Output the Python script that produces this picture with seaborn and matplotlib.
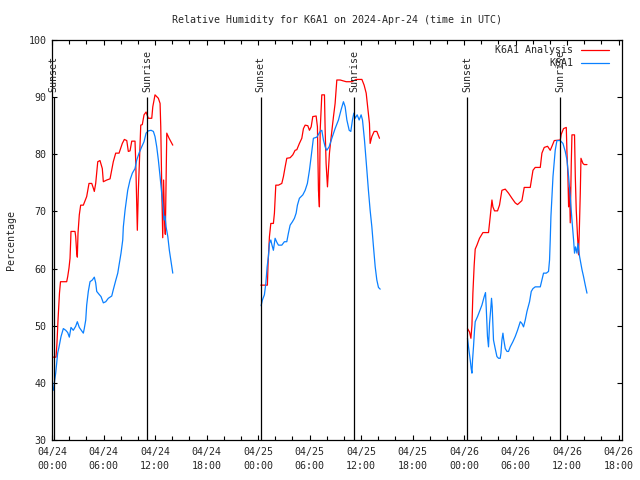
import pandas as pd
import seaborn as sns
import matplotlib
matplotlib.use('Agg')
import matplotlib.pyplot as plt
import matplotlib.dates as mdates

# hours since 2024-04-24 00:00 UTC, relative humidity in %
analysis_day1_hours = [0.12, 0.47, 0.58, 0.70, 0.87, 0.99, 1.71, 1.83, 1.98, 2.10, 2.18, 2.21, 2.68, 2.76, 2.88, 2.95,
                       3.03, 3.18, 3.34, 3.65, 4.04, 4.31, 4.63, 4.81, 4.93, 5.09, 5.33, 5.59, 5.86, 5.98, 6.38, 6.76,
                       7.14, 7.42, 7.81, 8.19, 8.43, 8.71, 8.89, 9.09, 9.29, 9.67, 9.76, 9.94, 10.06, 10.34, 10.52,
                       10.72, 10.96, 11.22, 11.62, 11.74, 12.0, 12.39, 12.59, 12.67, 12.79, 12.9, 13.0, 13.1, 13.2,
                       13.37, 13.64, 14.07]
analysis_day1_rh = [44.5, 44.5, 47, 51, 55.7, 57.7, 57.7, 58.6, 60.1, 61.8, 65, 66.5, 66.5, 65.6, 62.7, 62,
                    66.2, 69.4, 71.1, 71.1, 72.6, 74.9, 74.9, 74.1, 73.5, 74.9, 78.7, 78.9, 77.5, 75.2, 75.5, 75.7,
                    78.7, 80.2, 80.2, 81.9, 82.6, 82.4, 80.5, 80.6, 82.3, 82.3, 78.4, 66.7, 73.7, 85.1, 85.2,
                    86.9, 87.4, 86.3, 86.3, 88.3, 90.4, 89.8, 88.9, 84.8, 73.7, 65.4, 75.5, 69, 66,
                    83.7, 82.8, 81.6]

obs_day1_hours = [0.15, 0.27, 0.43, 0.55, 0.66, 0.82, 1.05, 1.32, 1.60, 1.83, 2.02, 2.21, 2.48, 2.76, 2.95, 3.18,
                  3.46, 3.65, 3.76, 3.93, 4.04, 4.23, 4.43, 4.70, 4.93, 5.09, 5.21, 5.48, 5.71, 5.98, 6.26, 6.56,
                  6.96, 7.14, 7.42, 7.66, 7.81, 8.04, 8.24, 8.31, 8.51, 8.82, 9.09, 9.36, 9.67, 9.87, 10.14, 10.45,
                  10.72, 10.96, 11.22, 11.54, 11.81, 12.0, 12.2, 12.39, 12.59, 12.79, 12.97, 13.05, 13.17, 13.29,
                  13.49, 13.67, 13.87, 14.07]
obs_day1_rh = [38.7, 40, 41.7, 43.5, 45.2, 46.3, 48.1, 49.5, 49.2, 48.8, 48, 49.7, 49.2, 49.9, 50.7, 49.7,
               49.1, 48.7, 49.5, 51, 53.6, 56, 57.7, 58, 58.5, 57.5, 56, 55.5, 55.1, 54, 54.2, 54.8,
               55.2, 56.3, 57.9, 59.2, 60.6, 62.7, 65, 67.3, 70.2, 73.7, 75.5, 76.7, 77.5, 79, 80.2, 81.3,
               82.2, 83.7, 84.1, 84.2, 84, 83.1, 81.3, 79, 76.1, 73, 70.2, 68.5, 69.2, 67.3,
               65.6, 63.2, 61.2, 59.2]

analysis_day2_hours = [24.32, 25.09, 25.17, 25.33, 25.49, 25.79, 25.91, 26.07, 26.38, 26.77, 26.96, 27.16, 27.35,
                       27.74, 28.05, 28.32, 28.52, 28.82, 29.10, 29.29, 29.49, 29.80, 29.99, 30.19, 30.38, 30.77,
                       30.92, 31.04, 31.15, 31.24, 31.43, 31.74, 31.82, 31.93, 32.09, 32.20, 32.32, 32.48, 32.79,
                       32.98, 33.18, 33.57, 34.27, 34.93, 35.43, 36.10, 36.36, 36.60, 36.75, 36.98, 37.06, 37.26,
                       37.53, 37.84, 38.15]
analysis_day2_rh = [57.1, 57.1, 60.9, 65.6, 67.9, 67.9, 69.7, 74.6, 74.6, 74.9, 76.1, 77.8, 79.3,
                    79.4, 79.9, 80.7, 80.8, 81.9, 82.8, 84.5, 85.1, 85, 84.2, 84.8, 86.6, 86.7,
                    84.8, 73.7, 70.8, 84.2, 90.4, 90.4, 84.2, 78.4, 74.3, 77.2, 80.2, 82.5, 86.6,
                    88.9, 93, 93, 92.7, 92.7, 93.1, 93.1, 92.1, 90.7, 88.6, 85.4, 81.9, 83.1,
                    84, 84, 82.8]

obs_day2_hours = [24.36, 24.51, 24.74, 24.91, 25.06, 25.21, 25.33, 25.49, 25.61, 25.79, 25.99, 26.19, 26.38, 26.77,
                  27.07, 27.35, 27.54, 27.74, 28.01, 28.24, 28.44, 28.59, 28.82, 29.22, 29.49, 29.75, 29.99, 30.19,
                  30.45, 30.85, 31.24, 31.43, 31.62, 31.82, 32.01, 32.28, 32.60, 32.98, 33.37, 33.68, 33.95, 34.15,
                  34.35, 34.62, 34.81, 35.00, 35.16, 35.31, 35.55, 35.78, 36.01, 36.17, 36.40, 36.68, 36.86, 37.06,
                  37.26, 37.45, 37.65, 37.84, 38.03, 38.23]
obs_day2_rh = [53.5, 54.5, 55.4, 57.4, 60.3, 62.1, 64.4, 65, 64.2, 63.2, 65.3, 64.6, 64.1, 64.1,
               64.7, 64.7, 66.2, 67.6, 68.2, 68.8, 69.7, 71.1, 72.3, 72.9, 73.7, 74.9, 77.2, 79.6,
               82.8, 83, 84, 84.2, 82.5, 81.3, 80.7, 81.3, 82.8, 84.5, 86, 87.8, 89.2, 88.3,
               86, 84.2, 84, 86, 87.2, 86.3, 86.9, 86, 86.9, 86, 82.5, 77.2, 73.7, 70.2,
               67.3, 63.8, 60.3, 58, 56.7, 56.4]

analysis_day3_hours = [48.40, 48.64, 48.80, 48.92, 49.03, 49.18, 49.30, 49.50, 49.80, 50.20, 50.85, 51.05, 51.25,
                       51.36, 51.55, 51.90, 52.13, 52.41, 52.80, 53.18, 53.58, 53.96, 54.23, 54.74, 55.01, 55.71,
                       56.03, 56.29, 56.88, 57.07, 57.34, 57.73, 58.04, 58.24, 58.51, 59.21, 59.32, 59.59, 59.91,
                       59.99, 60.10, 60.18, 60.29, 60.37, 60.49, 60.57, 60.87, 60.96, 61.07, 61.22, 61.34, 61.42,
                       61.54, 61.62, 61.85, 62.00, 62.32]
analysis_day3_rh = [49.5, 48.9, 47.8, 50.1, 55.7, 60.6, 63.4, 64.1, 65.3, 66.3, 66.3, 69.1, 72,
                    70.8, 70.1, 70.1, 71.1, 73.7, 73.9, 73.2, 72.3, 71.5, 71.2, 71.9, 74.2, 74.2,
                    77.2, 77.7, 77.7, 80.2, 81.2, 81.4, 80.7, 81.4, 82.4, 82.5, 83.5, 84.5, 84.7,
                    80.2, 76.1, 70.8, 74.3, 68, 78.4, 83.4, 83.4, 76.1, 70.2, 65.6, 62.4, 66.2,
                    73.2, 79.3, 78.4, 78.2, 78.2]

obs_day3_hours = [48.40, 48.52, 48.72, 48.83, 48.92, 48.99, 49.10, 49.22, 49.30, 49.57, 49.80, 50.08, 50.35, 50.50,
                  50.58, 50.73, 50.85, 50.97, 51.13, 51.20, 51.28, 51.43, 51.63, 51.83, 52.02, 52.21, 52.30, 52.41,
                  52.53, 52.60, 52.80, 53.00, 53.18, 53.38, 53.69, 53.96, 54.23, 54.55, 54.74, 54.93, 55.13, 55.33,
                  55.63, 55.83, 56.03, 56.29, 56.88, 57.07, 57.26, 57.58, 57.84, 57.96, 58.04, 58.12, 58.36, 58.62,
                  58.82, 59.21, 59.52, 59.79, 59.99, 60.18, 60.37, 60.57, 60.76, 60.87, 60.99, 61.15, 61.27, 61.46,
                  61.74, 61.92, 62.12, 62.32]
obs_day3_rh = [47.8, 46.3, 44, 42.5, 41.7, 44, 46.3, 49.2, 50.7, 51.6, 52.5, 53.6, 55.1, 55.8,
               53.3, 48.1, 46.3, 50.4, 53.3, 54.8, 53.3, 47.5, 46, 44.6, 44.3, 44.3, 45.2, 47.5,
               48.7, 47.8, 46, 45.5, 45.5, 46.3, 47.2, 48.1, 49.2, 50.7, 50.4, 49.8, 51, 52.5,
               54.2, 56, 56.5, 56.8, 56.8, 58, 59.2, 59.2, 59.5, 61.5, 65, 69.1, 76.1, 80.7,
               82.4, 82.4, 81.9, 80.5, 79, 76.1, 72.6, 68.5, 65, 62.7, 63.8, 62.7, 64.4, 62.1,
               59.8, 58.6, 57.1, 55.7]

sunset_hours = [0.2, 24.3, 48.4]
sunrise_hours = [11.1, 35.2, 59.2]

start = pd.Timestamp('2024-04-24 00:00')

segments = [
    ('K6A1 Analysis', 1, analysis_day1_hours, analysis_day1_rh),
    ('K6A1 Analysis', 2, analysis_day2_hours, analysis_day2_rh),
    ('K6A1 Analysis', 3, analysis_day3_hours, analysis_day3_rh),
    ('K6A1', 1, obs_day1_hours, obs_day1_rh),
    ('K6A1', 2, obs_day2_hours, obs_day2_rh),
    ('K6A1', 3, obs_day3_hours, obs_day3_rh),
]
frames = []
for name, day, hrs, vals in segments:
    frames.append(pd.DataFrame({'time': start + pd.to_timedelta(hrs, unit='h'),
                                'rh': vals, 'series': name, 'day': day}))
df = pd.concat(frames, ignore_index=True)

sns.set_style('ticks')
plt.rcParams['font.family'] = ['DejaVu Sans Mono']
fs = 7.2

fig = plt.figure(figsize=(6.4, 4.8), dpi=100)
ax = fig.add_axes([52 / 640, 1 - 440 / 480, 570 / 640, 400 / 480])

sns.lineplot(data=df, x='time', y='rh', hue='series', hue_order=['K6A1 Analysis', 'K6A1'],
             units='day', estimator=None, sort=False,
             palette={'K6A1 Analysis': '#ff0000', 'K6A1': '#0a80ff'}, lw=0.9, ax=ax)

# sunset / sunrise markers
for hrs, txt in [(sunset_hours, 'Sunset'), (sunrise_hours, 'Sunrise')]:
    for h in hrs:
        t = start + pd.Timedelta(hours=h)
        ax.vlines(t, 30, 90, color='black', lw=0.9)
        ax.text(t, 90.9, txt, rotation=90, ha='center', va='bottom', fontsize=fs)

ax.set_ylim(30, 100)
ax.set_xlim(start, start + pd.Timedelta(hours=66.4))
ax.set_yticks(range(30, 101, 10))
ax.xaxis.set_major_locator(mdates.HourLocator(byhour=[0, 6, 12, 18]))
ax.xaxis.set_minor_locator(mdates.HourLocator(byhour=range(0, 24, 2)))
ax.xaxis.set_major_formatter(mdates.DateFormatter('%m/%d\n%H:%M'))
ax.tick_params(which='both', direction='in', top=True, right=True, labelsize=fs, width=0.8, color='black')
ax.tick_params(which='major', length=3.5)
ax.tick_params(which='minor', length=3)
ax.tick_params(axis='x', pad=5)
ax.tick_params(axis='y', pad=4)
plt.setp(ax.get_xticklabels(), linespacing=1.45)
for s in ax.spines.values():
    s.set_color('black')
    s.set_linewidth(0.9)

ax.set_xlabel('')
ax.set_ylabel('Percentage', fontsize=fs, labelpad=9)
ax.set_title('Relative Humidity for K6A1 on 2024-Apr-24 (time in UTC)', fontsize=fs, pad=12)

ax.legend(loc='upper right', bbox_to_anchor=(1 - 6 / 570, 1 + 2 / 400), frameon=False, markerfirst=False,
          fontsize=fs, handlelength=2.8, handletextpad=0.8, labelspacing=0.3, borderaxespad=0.3)

fig.savefig('out.png', dpi=100)
